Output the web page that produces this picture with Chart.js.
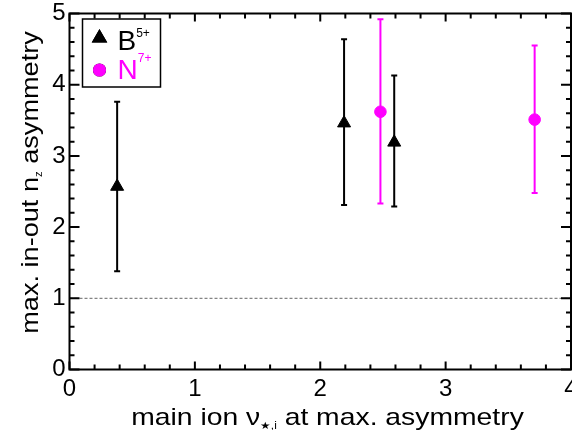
<!DOCTYPE html>
<html>
<head>
<meta charset="utf-8">
<script src="https://cdn.jsdelivr.net/npm/chart.js@4/dist/chart.umd.min.js"></script>
<style>
  html, body { margin: 0; padding: 0; background: #fff; }
  #wrap { width: 572px; height: 430px; }
</style>
</head>
<body>
<div id="wrap"><canvas id="stage" width="572" height="430"></canvas></div>
<script>
// B5+ points
const boronX = [0.38, 2.19, 2.59];
const boronY = [2.57, 3.46, 3.19];
const boronLow = [1.38, 2.31, 2.29];
const boronHigh = [3.76, 4.64, 4.13];
// N7+ points
const nitrogenX = [2.48, 3.71];
const nitrogenY = [3.62, 3.51];
const nitrogenLow = [2.33, 2.48];
const nitrogenHigh = [4.92, 4.55];
// dashed reference line at 1
const refLevel = 1;
const xTicks = [0, 1, 2, 3, 4];
const yTicks = [0, 1, 2, 3, 4, 5];
const legendNames = [['B', '5+'], ['N', '7+']];

const FONT = '"Liberation Sans", Arial, sans-serif';
const MAGENTA = '#ff00ff';

function toPoints(xs, ys) {
    return xs.map((x, i) => ({ x: x, y: ys[i] }));
}

// error bars, drawn under the markers
const errorBars = {
    id: 'errorBars',
    beforeDatasetsDraw(chart) {
        const ctx = chart.ctx;
        const xs = chart.scales.x, ys = chart.scales.y;
        chart.data.datasets.forEach(ds => {
            if (!ds.errLow) return;
            ctx.save();
            ctx.strokeStyle = ds.borderColor;
            ctx.lineWidth = 2;
            ds.data.forEach((p, i) => {
                const px = xs.getPixelForValue(p.x);
                const top = ys.getPixelForValue(ds.errHigh[i]);
                const bot = ys.getPixelForValue(ds.errLow[i]);
                ctx.beginPath();
                ctx.moveTo(px, top); ctx.lineTo(px, bot);
                ctx.moveTo(px - 3, top); ctx.lineTo(px + 3, top);
                ctx.moveTo(px - 3, bot); ctx.lineTo(px + 3, bot);
                ctx.stroke();
            });
            ctx.restore();
        });
    }
};

// box frame with inward ticks on all four sides
const frame = {
    id: 'frame',
    afterDraw(chart) {
        const ctx = chart.ctx;
        const a = chart.chartArea;
        const xs = chart.scales.x, ys = chart.scales.y;
        ctx.save();
        ctx.strokeStyle = '#000';
        ctx.lineWidth = 2;
        ctx.strokeRect(a.left, a.top, a.right - a.left, a.bottom - a.top);
        ctx.beginPath();
        for (let k = 0; k <= 20; k++) {
            const major = k % 5 === 0;
            const len = major ? 8 : 5;
            const px = xs.getPixelForValue(k * 0.2);
            ctx.moveTo(px, a.bottom); ctx.lineTo(px, a.bottom - len);
            ctx.moveTo(px, a.top); ctx.lineTo(px, a.top + len);
        }
        for (let k = 0; k <= 25; k++) {
            const major = k % 5 === 0;
            const len = major ? 10 : 5;
            const py = ys.getPixelForValue(k * 0.2);
            ctx.moveTo(a.left, py); ctx.lineTo(a.left + len, py);
            ctx.moveTo(a.right, py); ctx.lineTo(a.right - len, py);
        }
        ctx.stroke();
        ctx.restore();
    }
};

// draws runs of [text, size, dy] along a baseline, centred on 0
function drawRuns(ctx, runs) {
    let total = 0;
    runs.forEach(r => { ctx.font = r[1] + 'px ' + FONT; total += ctx.measureText(r[0]).width; });
    let x = -total / 2;
    runs.forEach(r => {
        ctx.font = r[1] + 'px ' + FONT;
        ctx.fillText(r[0], x, r[2]);
        x += ctx.measureText(r[0]).width;
    });
}

const titles = {
    id: 'titles',
    afterDraw(chart) {
        const ctx = chart.ctx;
        ctx.save();
        ctx.fillStyle = '#000';
        ctx.textBaseline = 'alphabetic';
        ctx.textAlign = 'left';
        // y title
        ctx.save();
        ctx.translate(37.5, 182.5);
        ctx.rotate(-Math.PI / 2);
        ctx.scale(1.13, 1);
        drawRuns(ctx, [['max. in-out n', 24, 0], ['z', 10, 4], [' asymmetry', 24, 0]]);
        ctx.restore();
        // x title
        ctx.save();
        ctx.translate(327.5, 425);
        ctx.scale(1.18, 1);
        drawRuns(ctx, [['main ion \u03bd', 24, 0], ['\u2605,i', 10, 4], [' at max. asymmetry', 24, 0]]);
        ctx.restore();
        ctx.restore();
    }
};

const legendBox = {
    id: 'legendBox',
    afterDraw(chart) {
        const ctx = chart.ctx;
        ctx.save();
        ctx.strokeStyle = '#000';
        ctx.lineWidth = 1.5;
        ctx.strokeRect(82.5, 19, 78, 68);
        const rows = [{ m: 38, b: 49.5, s: 36.5 }, { m: 70, b: 78.5, s: 62 }];
        chart.data.datasets.filter(ds => ds.errLow).forEach((ds, i) => {
            const r = rows[i];
            Chart.helpers.drawPoint(ctx, {
                pointStyle: ds.pointStyle, radius: ds.pointRadius, rotation: 0, borderWidth: 1
            }, 99.5, r.m);
            ctx.fillStyle = ds.backgroundColor;
            ctx.strokeStyle = ds.borderColor;
            ctx.fill();
            ctx.stroke();
            ctx.textBaseline = 'alphabetic';
            ctx.textAlign = 'left';
            ctx.font = '28px ' + FONT;
            ctx.fillText(legendNames[i][0], 117.5, r.b);
            const w = ctx.measureText(legendNames[i][0]).width;
            ctx.font = '12px ' + FONT;
            ctx.fillText(legendNames[i][1], 117.5 + w, r.s);
        });
        ctx.restore();
    }
};

new Chart(document.getElementById('stage'), {
    type: 'scatter',
    data: {
        datasets: [{
            label: 'B5+',
            data: toPoints(boronX, boronY),
            errLow: boronLow,
            errHigh: boronHigh,
            pointStyle: 'triangle',
            pointRadius: 7.5,
            backgroundColor: '#000',
            borderColor: '#000',
            borderWidth: 1,
        }, {
            label: 'N7+',
            data: toPoints(nitrogenX, nitrogenY),
            errLow: nitrogenLow,
            errHigh: nitrogenHigh,
            pointStyle: 'circle',
            pointRadius: 5.8,
            backgroundColor: MAGENTA,
            borderColor: MAGENTA,
            borderWidth: 1,
        }, {
            type: 'line',
            label: 'ref',
            data: [{ x: xTicks[0], y: refLevel }, { x: xTicks[xTicks.length - 1], y: refLevel }],
            borderColor: '#666',
            borderWidth: 1,
            borderDash: [3, 2],
            pointRadius: 0,
            order: 5,
        }]
    },
    options: {
        responsive: false,
        animation: false,
        layout: { padding: { top: 13.5, right: 1, left: 0, bottom: 0 }, autoPadding: false },
        plugins: { legend: { display: false }, tooltip: { enabled: false } },
        scales: {
            x: {
                type: 'linear', min: 0, max: 4,
                afterBuildTicks: s => { s.ticks = xTicks.map(v => ({ value: v })); },
                afterFit: s => { s.height = 60.5; s.paddingLeft = 0; s.paddingRight = 0; },
                grid: { display: false, drawTicks: false, tickLength: 0 },
                border: { display: false },
                ticks: { color: '#000', font: { family: FONT, size: 24 }, padding: 5 }
            },
            y: {
                type: 'linear', min: 0, max: 5,
                afterBuildTicks: s => { s.ticks = yTicks.map(v => ({ value: v })); },
                afterFit: s => { s.width = 69.5; s.paddingTop = 0; s.paddingBottom = 0; },
                grid: { display: false, drawTicks: false, tickLength: 0 },
                border: { display: false },
                ticks: { color: '#000', font: { family: FONT, size: 24 }, padding: 4 }
            }
        }
    },
    plugins: [errorBars, frame, titles, legendBox]
});
</script>
</body>
</html>
